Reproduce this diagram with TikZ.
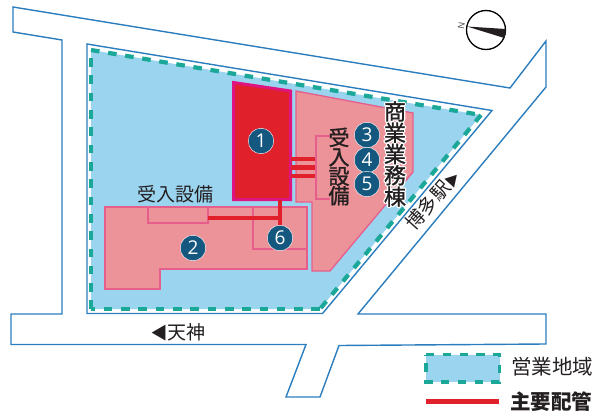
\documentclass[tikz,border=0pt]{standalone}
\usepackage{fontspec}
\setmainfont{Liberation Sans}
\newfontfamily\jp{Noto Sans CJK JP}
\newfontfamily\jpm[FakeBold=1.2]{Noto Sans CJK JP}
\newfontfamily\jphalo[FakeBold=14]{Noto Sans CJK JP}
\newfontfamily\numf{Open Sans}
\definecolor{roadc}{HTML}{2B7DBD}
\definecolor{sitec}{HTML}{9BD4EF}
\definecolor{tealc}{HTML}{1BA899}
\definecolor{pinkc}{HTML}{EC9299}
\definecolor{pinkl}{HTML}{E65E8C}
\definecolor{redc}{HTML}{E0202A}
\definecolor{magc}{HTML}{DE1480}
\definecolor{badge}{HTML}{14577F}
\definecolor{inkc}{HTML}{231F20}
\tikzset{
  road/.style={draw=roadc,line width=1.4pt,line join=miter},
  sitefill/.style={fill=sitec},
  dashline/.style={draw=tealc,line width=4.2pt,dash pattern=on 8.6pt off 8.7pt},
  bldg/.style={draw=pinkl,line width=1.3pt,fill=pinkc},
  inner/.style={draw=pinkl,line width=1.3pt},
  pipe/.style={draw=redc,line width=4.4pt},
  num/.style={circle,fill=badge,draw=white,line width=.4pt,minimum size=25.5pt,inner sep=0pt,text=white,font=\numf\fontsize{19}{19}\selectfont},
  lab/.style={inner sep=0pt,text=inkc,font=\jp\fontsize{19}{19}\selectfont},
  vlab/.style={inner sep=0pt,text=inkc,align=center},
}
\begin{document}
\begin{tikzpicture}[x=1pt,y=-1pt]
\useasboundingbox (0,0) rectangle (600,420);
% roads
\draw[road] (13,7) -- (510,88) -- (546,41) -- (546,87) -- (358,314) -- (546,314) -- (546,344) -- (339,345.5) -- (320,397) -- (286,397) -- (306,344.5) -- (11,344.5) -- (11,314) -- (62,314) -- (62,40) -- (13,32) -- cycle;
\draw[road] (87,44) -- (492,110.5) -- (322.5,313.5) -- (87,313.5) -- cycle;
% site
\fill[sitefill] (91,50) -- (481,115) -- (320,309) -- (91,309) -- cycle;
\draw[dashline] (91,50) -- (481,115);
\draw[dashline] (481,115) -- (320,309);
\draw[dashline] (320,309) -- (91,309);
\draw[dashline] (91,309) -- (91,50);
% buildings
\draw[bldg] (296,91) -- (413,113) -- (413,172) -- (330,271) -- (312,271) -- (312,202) -- (296,202) -- cycle;
\draw[inner] (330,136) -- (316,136) -- (316,199) -- (330,199);
\draw[bldg] (105,207) -- (307,207) -- (307,269) -- (160,269) -- (160,289) -- (105,289) -- cycle;
\draw[inner] (148,207) -- (148,223) -- (208,223) -- (208,207);
\draw[inner] (253,207) -- (253,249) -- (307,249);
\draw[draw=magc,fill=redc,line width=3pt] (233.5,82.5) -- (290.5,91) -- (290.5,199.5) -- (233.5,199.5) -- cycle;
% pipes
\node[num] (n1) at (261,141) {1};
\node[num] (n2) at (193,248) {2};
\node[num] (n3) at (367,135) {3};
\node[num] (n4) at (367,160) {4};
\node[num] (n5) at (367,184) {5};
\coordinate (p1) at (280,200);
\coordinate (p2) at (280,218);
\coordinate (p3) at (208,218);
\draw[pipe] (p1) -- (280,230);
\draw[pipe] (p3) -- (p2);
\node[num] (n6) at (280,238) {6};
\draw[pipe] (291,159) -- (315,159);
\draw[pipe] (291,167.5) -- (315,167.5);
\draw[pipe] (291,176) -- (315,176);
% labels
\node[lab] (t1) at (175,194) {受入設備};
\node[vlab,font=\jpm\fontsize{21}{19.4}\selectfont] (t2) at (339,166.5) {受\\入\\設\\備};
\node[vlab,text=white,font=\jphalo\fontsize{22}{21.3}\selectfont] (t3h) at (395,154) {\special{pdf:code 1 j}商\\\special{pdf:code 1 j}業\\\special{pdf:code 1 j}業\\\special{pdf:code 1 j}務\\\special{pdf:code 1 j}棟};
\node[vlab,font=\jpm\fontsize{22}{21.3}\selectfont] (t3) at (395,154) {商\\業\\業\\務\\棟};
\node[lab,rotate=48] (t4) at (432.5,200) {博多駅{\fontsize{14}{14}\selectfont ▶}};
\node[lab] (t5) at (178,332) {{\fontsize{17}{17}\selectfont ◀}天神};
% north
\node[circle,draw=black,line width=1.3pt,minimum size=39pt,inner sep=0pt] (comp) at (486,30) {};
\fill[inkc] (467,26.5) -- (505.7,29) arc (-5:22:19.5) -- cycle;
\node[inner sep=0pt,rotate=80,text=inkc!80,font=\fontsize{9}{9}\selectfont] (north) at (461.5,26) {N};
% legend
\fill[sitefill] (426,354.5) rectangle (499.5,382);
\draw[dashline,line width=3.8pt,dash pattern=on 8.4pt off 8.4pt] (426,354.5) -- (499.5,354.5) -- (499.5,382) -- (426,382) -- cycle;
\node[lab,font=\jp\fontsize{20.5}{20.5}\selectfont] (lg1) at (552,367) {営業地域};
\coordinate (la) at (426,401);
\coordinate (lb) at (499,401);
\draw[pipe,line width=5pt] (la) -- (lb);
\node[lab,font=\jp\bfseries\fontsize{20.5}{20.5}\selectfont] (lg2) at (551,402) {主要配管};
\end{tikzpicture}
\end{document}
